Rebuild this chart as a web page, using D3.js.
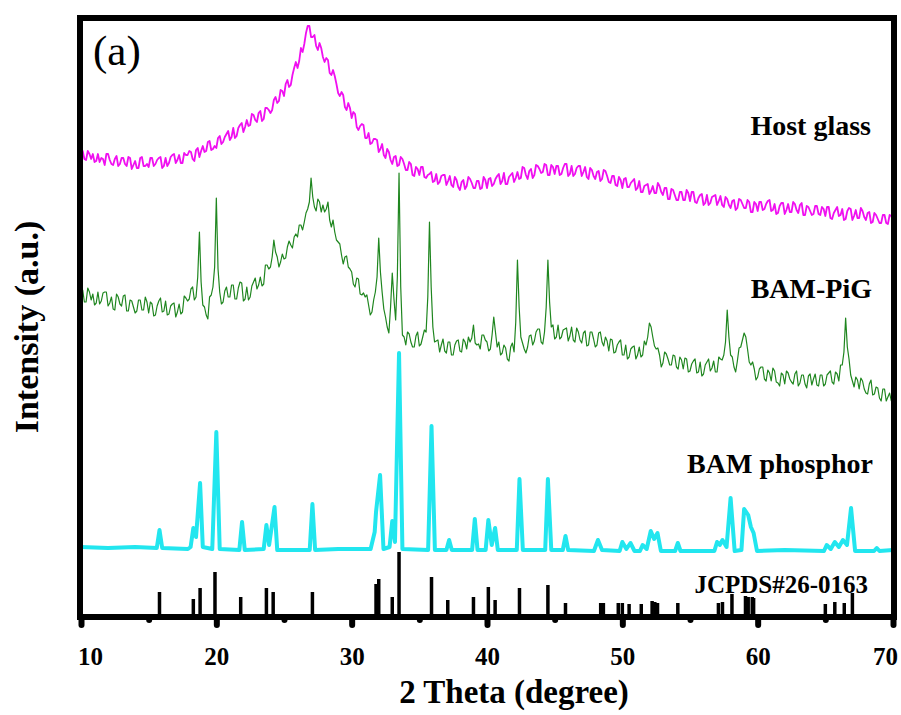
<!DOCTYPE html>
<html lang="en">
<head>
<meta charset="UTF-8">
<title>XRD patterns</title>
<script src="https://d3js.org/d3.v7.min.js"></script>
<style>
  body { margin: 0; background: #fff; }
  svg text { font-family: "Times New Roman", "Liberation Serif", serif; fill: #000; }
  .lbl { font-weight: bold; }
</style>
</head>
<body>
<svg width="901" height="715"></svg>
<script>
  // 2-theta grid for the measured curves (0.125 deg steps, 10..70)
  const twoTheta = d3.range(0, 481).map(i => 10 + i * 0.125);

  // host glass (arb. units), one row per degree
  const glass = [
    465,466,458,457,466,463,458,463, 455,456,463,455,459,458,452,463,
    463,457,453,452,458,461,451,453, 459,459,453,451,460,459,448,452,
    456,449,449,459,460,451,451,453, 450,459,459,451,453,457,459,460,
    449,451,459,451,454,460,462,463, 454,457,462,454,454,464,462,462,
    466,465,458,456,467,469,460,466, 471,465,466,475,476,467,468,471,
    469,479,481,473,475,480,483,486, 477,480,489,479,481,489,492,494,
    485,490,497,491,492,503,502,497, 495,504,506,496,498,509,509,507,
    504,507,517,520,514,516,527,526, 521,533,537,530,532,542,549,555,
    549,556,569,565,573,584,591,591, 580,580,582,571,567,574,569,560,
    555,559,557,544,542,547,541,533, 524,521,525,522,510,507,514,509,
    499,505,503,490,487,491,493,492, 479,479,484,473,474,478,478,477,
    465,468,473,462,459,468,465,457, 453,460,461,451,452,460,458,453,
    447,447,455,453,442,441,450,448, 442,450,450,440,439,442,443,445,
    435,436,443,433,435,441,442,442, 432,436,441,432,430,440,437,430,
    427,435,437,428,431,440,438,434, 429,429,436,436,428,429,440,437,
    429,438,439,431,433,438,441,443, 433,436,444,433,433,440,442,444,
    435,439,445,438,439,450,449,442, 438,446,448,439,442,452,451,448,
    444,445,453,452,442,442,452,450, 443,451,451,442,443,449,453,453,
    441,443,451,441,443,449,451,451, 441,445,450,440,438,449,447,441,
    438,445,446,436,438,447,446,441, 435,434,441,441,432,431,440,437,
    429,438,439,430,430,434,436,438, 427,429,436,425,425,431,432,433,
    423,426,431,424,424,434,431,425, 422,429,429,418,418,428,427,422,
    417,417,425,425,417,417,427,424, 416,425,425,415,414,419,422,423,
    412,414,422,412,414,420,421,422, 412,416,421,412,410,420,418,412,
    409,416,417,407,409,418,417,413, 409,409,417,415,405,405,415,413,
    406,415,415,407,408,413,416,417, 406,407,413,403,404,411,414,414,
    403,407,413,405,405,415,413,407, 404,412,414,402,402,411,410,406,
    402,403,411,411,403,402,410,408, 401,410,410,399,398,404,407,410,
    401,402,408,397,398,406,409,408, 397,401,407,399,399,409,406,400,
    397,404,405,394,395,404,402,398, 394,394,402,402,394,393,402,401,
    396
  ];

  // BAM-PiG
  const pig = [
    327,327,315,315,329,325,317,323, 312,314,325,313,316,324,325,325,
    311,314,320,308,307,323,320,313, 311,321,322,306,306,317,316,310,
    304,306,317,317,307,307,320,315, 304,315,313,301,302,311,316,319,
    305,306,316,302,303,311,313,314, 300,305,313,303,305,321,319,316,
    318,328,330,317,320,340,385,335, 312,310,302,298,320,322,330,350,
    419,348,325,313,315,326,330,320, 320,332,332,318,318,329,335,334,
    316,318,330,317,320,331,335,339, 328,332,340,331,333,352,352,348,
    350,360,377,365,360,350,355,363, 358,359,370,376,372,369,380,383,
    380,392,392,387,395,404,408,415, 439,420,410,406,418,415,405,412,
    405,408,415,397,390,397,385,377, 375,373,362,353,360,361,350,348,
    345,333,330,339,338,323,322,324, 320,322,312,302,305,317,325,340,
    379,345,325,308,300,290,284,310, 344,318,297,340,444,330,282,280,
    272,285,283,275,270,270,281,285, 271,273,280,287,285,320,395,330,
    290,275,276,277,265,272,278,266, 264,275,275,262,262,272,276,277,
    266,265,278,275,268,280,275,279, 292,274,272,273,268,282,282,277,
    275,266,268,282,300,285,270,275, 262,264,272,269,258,256,270,274,
    265,295,357,310,280,274,268,264, 270,281,282,272,276,285,288,288,
    275,273,285,310,357,315,290,292, 278,280,292,278,280,287,288,289,
    276,281,290,277,275,289,285,277, 274,284,286,271,272,285,285,278,
    270,272,284,285,275,271,280,276, 266,278,277,264,265,272,275,277,
    262,262,272,258,260,268,270,271, 258,262,270,260,262,276,272,280,
    294,290,280,271,268,269,262,250, 254,265,263,258,252,252,262,261,
    250,248,260,257,248,259,258,245, 246,253,256,258,244,245,255,241,
    243,252,255,258,246,249,256,245, 245,260,258,257,262,275,307,280,
    262,260,250,245,256,269,270,277, 284,280,268,255,252,255,248,237,
    240,248,250,250,238,236,247,244, 236,249,246,235,234,231,244,242,
    233,246,244,238,235,233,243,246, 231,234,242,242,233,229,241,243,
    232,238,243,232,231,242,242,231, 233,242,244,246,235,233,245,243,
    236,252,252,265,299,270,258,242, 236,230,240,237,228,239,236,228,
    224,223,233,237,222,223,230,229, 219,216,228,228,216,220,224,216,
    217
  ];

  // BAM phosphor: [2theta, intensity]
  const phosphor = [
    [10,70],[12,69],[14,70],[15.6,69],[15.8,87],[16.0,69],[17.9,68],[18.1,70],[18.3,89],[18.5,80],
    [18.8,134],[19.0,70],[19.7,68],[20.0,185],[20.25,68],[21.7,67],[21.9,95],[22.1,67],
    [23.5,68],[23.7,92],[23.9,72],[24.3,110],[24.5,67],[26.9,67],[27.1,113],[27.3,67],
    [29,68],[31.4,68],[31.7,85],[31.8,105],[32.1,142],[32.35,68],[32.8,70],[33.0,96],[33.2,75],
    [33.5,264],[33.75,68],[35.65,67],[35.9,191],[36.15,67],[37.0,67],[37.2,77],[37.4,67],
    [38.9,67],[39.1,98],[39.3,67],[39.9,67],[40.1,97],[40.35,72],[40.6,89],[40.8,67],
    [42.2,67],[42.4,138],[42.65,67],[44.3,67],[44.5,138],[44.75,67],[45.6,67],[45.8,81],[46.0,67],
    [47.9,66],[48.2,77],[48.5,67],[49.8,66],[50.0,75],[50.3,68],[50.6,74],[50.9,66],
    [51.3,66],[51.5,72],[51.8,68],[52.1,86],[52.35,78],[52.6,84],[52.85,66],[53.9,66],[54.1,74],[54.3,66],
    [56.8,66],[57.0,75],[57.2,72],[57.4,77],[57.7,70],[58.0,119],[58.3,66],
    [58.8,67],[59.0,108],[59.3,102],[59.5,90],[59.7,84],[59.95,66],[62,67],
    [64.9,66],[65.1,72],[65.4,68],[65.7,75],[66.0,70],[66.3,77],[66.6,72],[66.9,109],[67.2,66],
    [68.6,66],[68.8,69],[69.0,66],[70,67]
  ];

  // JCPDS#26-0163 reference lines: [2theta, height]
  const jcpds = [
    [15.8,25],[18.3,18],[18.8,29],[19.9,45],[21.8,20],[23.7,29],[24.2,25],[27.1,25],
    [31.8,33],[32.0,38],[33.0,20],[33.5,65],[35.9,40],[37.1,17],[39.0,20],[40.1,30],
    [40.6,17],[42.4,29],[44.5,32],[45.8,14],[48.4,14],[48.6,14],[49.7,14],[50.0,14],
    [50.5,13],[51.4,13],[52.2,16],[52.4,15],[52.6,14],[54.1,14],[57.1,14],[57.4,15],
    [58.1,23],[59.1,21],[59.3,20],[59.6,20],[59.7,19],[65.0,13],[65.7,15],[66.4,14],[67.0,24]
  ];

  const majorTicks = [10, 20, 30, 40, 50, 60, 70];
  const minorTicks = [15, 25, 35, 45, 55, 65];

  let svg = d3.select("svg");

  let x = d3.scaleLinear().domain([10, 70]).range([81, 893]);
  let y = d3.scaleLinear().domain([0, 600]).range([617, 17]);

  let line = d3.line()
    .x(d => x(d[0]))
    .y(d => y(d[1]));

  // curves
  svg.append("path")
    .datum(twoTheta.map((t, i) => [t, glass[i]]))
    .attr("d", line)
    .attr("fill", "none")
    .attr("stroke", "#f010f0")
    .attr("stroke-width", 1.8)
    .attr("stroke-linejoin", "round");

  svg.append("path")
    .datum(twoTheta.map((t, i) => [t, pig[i]]))
    .attr("d", line)
    .attr("fill", "none")
    .attr("stroke", "#1f861f")
    .attr("stroke-width", 1.2)
    .attr("stroke-linejoin", "round");

  svg.append("path")
    .datum(phosphor)
    .attr("d", line)
    .attr("fill", "none")
    .attr("stroke", "#22e6ef")
    .attr("stroke-width", 4)
    .attr("stroke-linejoin", "round");

  // stick pattern
  svg.append("g").selectAll("line")
    .data(jcpds)
    .join("line")
    .attr("x1", d => x(d[0]))
    .attr("x2", d => x(d[0]))
    .attr("y1", y(0))
    .attr("y2", d => y(d[1]))
    .attr("stroke", "#000")
    .attr("stroke-width", 3.5);

  // frame
  svg.append("rect")
    .attr("x", 80)
    .attr("y", 18)
    .attr("width", 814)
    .attr("height", 599)
    .attr("fill", "none")
    .attr("stroke", "#000")
    .attr("stroke-width", 6);

  // x axis, major + minor ticks
  let gMajor = svg.append("g")
    .attr("transform", "translate(0," + y(0) + ")")
    .call(d3.axisBottom(x).tickValues(majorTicks).tickSize(8).tickFormat(d3.format("d")));
  let gMinor = svg.append("g")
    .attr("transform", "translate(0," + y(0) + ")")
    .call(d3.axisBottom(x).tickValues(minorTicks).tickSize(3).tickFormat(""));

  [gMajor, gMinor].forEach(g => {
    g.select(".domain").remove();
    g.selectAll(".tick line")
      .attr("stroke", "#000")
      .attr("stroke-width", 6)
      .attr("stroke-linecap", "round");
  });

  gMajor.selectAll(".tick text")
    .attr("y", 48)
    .attr("dy", 0)
    .attr("dx", d => d === 10 ? 9 : (d === 70 ? -8 : 0))
    .attr("class", "lbl")
    .style("font-size", "25px")
    .attr("fill", "#000");

  // titles
  svg.append("text")
    .attr("class", "lbl")
    .attr("x", 514)
    .attr("y", 703)
    .attr("text-anchor", "middle")
    .style("font-size", "33px")
    .text("2 Theta (degree)");

  svg.append("text")
    .attr("class", "lbl")
    .attr("transform", "translate(38,327) rotate(-90)")
    .attr("text-anchor", "middle")
    .style("font-size", "34px")
    .text("Intensity (a.u.)");

  svg.append("text")
    .attr("x", 93)
    .attr("y", 65)
    .style("font-size", "43px")
    .text("(a)");

  // curve labels
  let labels = [
    { t: "Host glass", x: 871, y: 135, s: 28 },
    { t: "BAM-PiG", x: 872, y: 298, s: 28 },
    { t: "BAM phosphor", x: 873, y: 473, s: 28 },
    { t: "JCPDS#26-0163", x: 868, y: 593, s: 25 }
  ];
  svg.selectAll(".curve-label")
    .data(labels)
    .join("text")
    .attr("class", "lbl curve-label")
    .attr("x", d => d.x)
    .attr("y", d => d.y)
    .attr("text-anchor", "end")
    .style("font-size", d => d.s + "px")
    .text(d => d.t);
</script>
</body>
</html>
